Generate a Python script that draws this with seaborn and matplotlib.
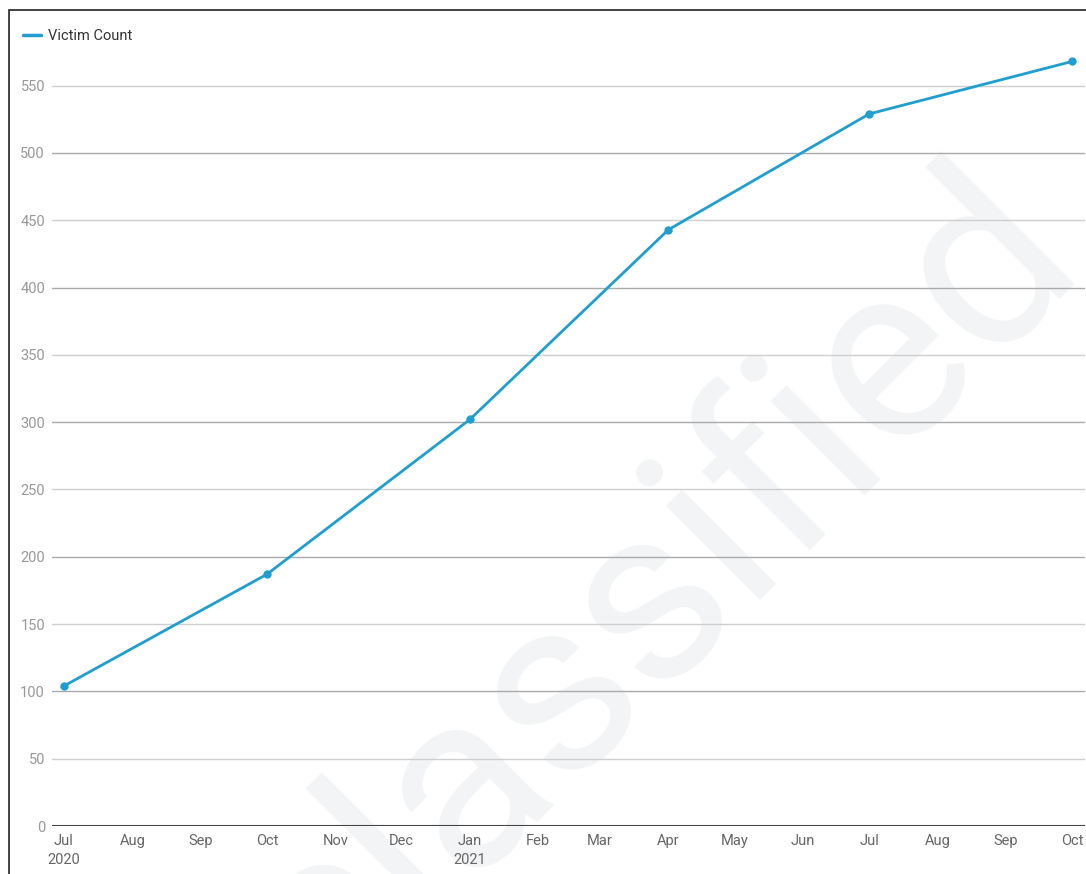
import pandas as pd
import matplotlib.pyplot as plt
import seaborn as sns
from matplotlib.patches import Rectangle
from matplotlib.lines import Line2D

# --- DATOS ---
fechas = ["2020-07-01", "2020-10-01", "2021-01-01", "2021-04-01", "2021-07-01", "2021-10-01"]
victimas = [104, 187, 302, 443, 529, 568]
meses_ticks = pd.date_range("2020-07-01", "2021-10-01", freq="MS")
etiquetas_y = [0, 50, 100, 150, 200, 250, 300, 350, 400, 450, 500, 550]

df = pd.DataFrame({"fecha": pd.to_datetime(fechas), "Victim Count": victimas})

sns.set_theme(style="white")
plt.rcParams["font.family"] = ["Roboto", "DejaVu Sans"]

fig = plt.figure(figsize=(10.86, 8.74), dpi=100)
ax = fig.add_axes([52 / 1086, 48 / 874, (1085 - 52) / 1086, (826 - 52) / 874])
ax.set_zorder(2)

# marco de la figura (solo izquierda y arriba visibles)
fig.patches.append(Rectangle((9 / 1086, -0.01), 1.2, 1 - 10 / 874 + 0.01,
                             transform=fig.transFigure, fill=False,
                             edgecolor="#222222", linewidth=1.2, zorder=0))

# marca de agua (detras del grafico)
fig.text(0.508, 0.205, "Unclassified", fontsize=180, color="#f3f4f5",
         fontweight="normal", rotation=45, ha="center", va="center",
         zorder=0.5)

# rejilla alternada
for v in etiquetas_y[1:]:
    color = "#aaaaaa" if v % 100 == 0 else "#cfcfcf"
    ax.axhline(v, color=color, linewidth=1.0, zorder=1)
ax.axhline(0, color="#444444", linewidth=1.5, zorder=2)

col = "#1f9ecf"
sns.lineplot(data=df, x="fecha", y="Victim Count", ax=ax, color=col,
             linewidth=2, marker="o", markersize=6, markeredgewidth=0,
             legend=False, zorder=3)

ax.set_xlim(pd.Timestamp("2020-07-01") - pd.Timedelta(days=5.4),
            pd.Timestamp("2021-10-01") + pd.Timedelta(days=5.8))
ax.set_ylim(0, 575)
ax.set_yticks(etiquetas_y)
ax.set_yticklabels([str(v) for v in etiquetas_y], color="#999999", fontsize=10.5)

ax.set_xticks(meses_ticks)
etiquetas_x = []
for m in meses_ticks:
    txt = m.strftime("%b")
    if (m.month == 7 and m.year == 2020) or m.month == 1:
        txt += "\n" + str(m.year)
    etiquetas_x.append(txt)
ax.set_xticklabels(etiquetas_x, color="#666666", fontsize=10.5, linespacing=1.4)
ax.tick_params(axis="y", length=0, pad=5)
ax.tick_params(axis="x", length=0, pad=6)

ax.set_xlabel("")
ax.set_ylabel("")
ax.patch.set_alpha(0)
for s in ax.spines.values():
    s.set_visible(False)

mango = Line2D([], [], color=col, linewidth=2.5)
fig.legend(handles=[mango], labels=["Victim Count"],
           loc="center left", bbox_to_anchor=(10 / 1086, 1 - 36 / 874),
           frameon=False, fontsize=10.5, handlelength=1.25, handletextpad=0.45,
           labelcolor="#333333")

fig.savefig("out.png", dpi=100)
